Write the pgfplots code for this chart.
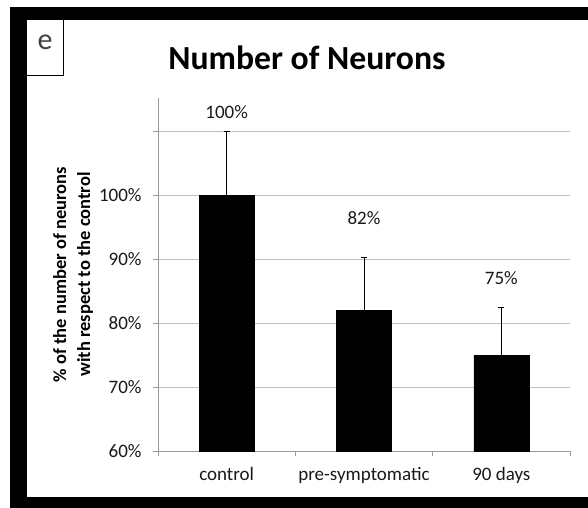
\documentclass[border=0pt]{standalone}
\usepackage{pgfplots}
\pgfplotsset{compat=1.18}
\usepackage{fontspec}
\setmainfont{Carlito}
\begin{document}
\begin{tikzpicture}
\path[use as bounding box] (0,0) rectangle (588bp,-508bp);
\fill[white] (0,0) rectangle (588bp,-508bp);
\fill[black] (10bp,-7bp) rectangle (588bp,-20bp);
\fill[black] (10bp,-7bp) rectangle (27bp,-508bp);
\fill[black] (10bp,-497bp) rectangle (588bp,-508bp);
\draw[black, line width=0.8bp] (27bp,-75bp) -- (63bp,-75bp) -- (63bp,-20bp);
\node[text=black!75, font=\fontsize{30bp}{32bp}\selectfont] at (45bp,-42bp) {e};
\node[font=\fontsize{33.7bp}{36bp}\selectfont\bfseries] at (307bp,-58bp) {Number of Neurons};
\begin{axis}[
  at={(158bp,-451bp)}, anchor=south west,
  scale only axis, width=412bp, height=353bp,
  xmin=-0.5, xmax=2.5, ymin=60, ymax=115.2,
  axis x line*=bottom, axis y line*=left,
  axis line style={draw=black!40, line width=0.8bp, -},
  ybar, bar width=55bp,
  xtick={-0.5,0.5,1.5,2.5}, xticklabels={},
  extra x ticks={0,1,2},
  extra x tick labels={control,pre-symptomatic,90 days},
  extra x tick style={major tick length=0pt, grid=none,
    xticklabel style={yshift=-13bp}},
  ytick={60,70,80,90,100,110},
  yticklabels={60\%,70\%,80\%,90\%,100\%,{}},
  yticklabel style={xshift=-8bp},
  ymajorgrids,
  grid style={black!25, line width=0.8bp},
  tick align=outside, major tick length=5bp,
  tick style={black!40, line width=0.8bp},
  ticklabel style={font=\fontsize{19bp}{22bp}\selectfont, text=black!90},
  ylabel={\% of the number of neurons\\with respect to the control},
  ylabel style={align=center, font=\fontsize{18.5bp}{24bp}\selectfont\bfseries,
    at={(axis description cs:-0.206,0.5)}, anchor=center},
]
\addplot[fill=black, draw=black,
  error bars/.cd, y dir=plus, y explicit,
  error bar style={black, line width=0.8bp},
  error mark options={rotate=90, mark size=3bp, black, line width=0.8bp}]
  coordinates {(0,100) +- (0,10) (1,82) +- (0,8.2) (2,75) +- (0,7.5)};
\node[font=\fontsize{19bp}{22bp}\selectfont, text=black!90] at (axis cs:0,113) {100\%};
\node[font=\fontsize{19bp}{22bp}\selectfont, text=black!90] at (axis cs:1,96.4) {82\%};
\node[font=\fontsize{19bp}{22bp}\selectfont, text=black!90] at (axis cs:2,87) {75\%};
\end{axis}
\end{tikzpicture}
\end{document}
